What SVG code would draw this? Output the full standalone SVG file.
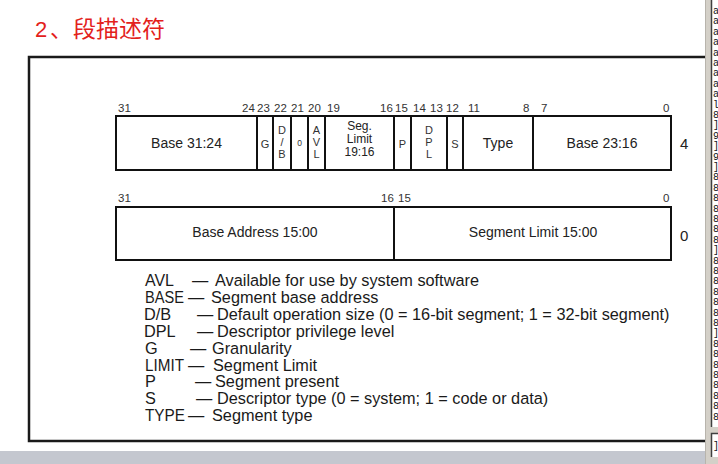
<svg xmlns="http://www.w3.org/2000/svg" width="718" height="464" viewBox="0 0 718 464">
<style>
.t{font-family:"Liberation Sans",Arial,sans-serif}
.bit{font-family:"Liberation Sans",Arial,sans-serif;font-size:11.5px;fill:#333}
.lbl{font-family:"Liberation Sans",Arial,sans-serif;font-size:14px;fill:#222;text-anchor:middle}
.sm{font-family:"Liberation Sans",Arial,sans-serif;font-size:11px;fill:#333;text-anchor:middle}
.cell{fill:#fff;stroke:#111;stroke-width:2}
.div{stroke:#111;stroke-width:2}
.leg{font-family:"Liberation Sans",Arial,sans-serif;font-size:16.3px;fill:#1a1a1a}
.mono{font-family:"Liberation Mono","DejaVu Sans Mono",monospace;font-size:10px;fill:#111}
</style>
<rect x="0" y="0" width="718" height="464" fill="#fff"/>
<text x="35" y="37" style="font-family:'Liberation Sans','Noto Sans CJK SC',sans-serif;font-size:22px;fill:#e3211b">2<tspan x="50">、</tspan><tspan x="73" style="font-size:23px">段描述符</tspan></text>
<rect x="29" y="57" width="700" height="384" fill="none" stroke="#1a1a1a" stroke-width="2.5"/>

<g id="row-high">
<rect class="cell" x="116" y="116" width="555" height="54"/>
<g class="bit">
<text x="118" y="112">31</text><text x="242" y="112">24</text><text x="257" y="112">23</text>
<text x="274" y="112">22</text><text x="291" y="112">21</text><text x="308" y="112">20</text>
<text x="327" y="112">19</text><text x="380" y="112">16</text><text x="395" y="112">15</text>
<text x="413" y="112">14</text><text x="430" y="112">13</text><text x="446" y="112">12</text>
<text x="468" y="112">11</text><text x="523" y="112">8</text><text x="541" y="112">7</text>
<text x="663" y="112">0</text>
</g>
<g id="f-base3124"><text class="lbl" x="186.5" y="148">Base 31:24</text></g>
<g id="f-g"><line class="div" x1="257" y1="116" x2="257" y2="170"/><text class="sm" x="265" y="147.5">G</text></g>
<g id="f-db"><line class="div" x1="273" y1="116" x2="273" y2="170"/><text class="sm" x="282" y="134">D</text><text class="sm" x="282" y="146">/</text><text class="sm" x="282" y="158">B</text></g>
<g id="f-zero"><line class="div" x1="291" y1="116" x2="291" y2="170"/><text class="sm" x="299.5" y="146" style="font-size:8.5px">0</text></g>
<g id="f-avl"><line class="div" x1="308" y1="116" x2="308" y2="170"/><text class="sm" x="316.5" y="134">A</text><text class="sm" x="316.5" y="146">V</text><text class="sm" x="316.5" y="158">L</text></g>
<g id="f-seglimit"><line class="div" x1="325" y1="116" x2="325" y2="170"/><text class="lbl" x="359.5" y="129.5" style="font-size:12px">Seg.</text><text class="lbl" x="359.5" y="142.5" style="font-size:12px">Limit</text><text class="lbl" x="359.5" y="155.5" style="font-size:12px">19:16</text></g>
<g id="f-p"><line class="div" x1="394" y1="116" x2="394" y2="170"/><text class="sm" x="402.5" y="147.5">P</text></g>
<g id="f-dpl"><line class="div" x1="411" y1="116" x2="411" y2="170"/><text class="sm" x="429" y="134">D</text><text class="sm" x="429" y="146">P</text><text class="sm" x="429" y="158">L</text></g>
<g id="f-s"><line class="div" x1="447" y1="116" x2="447" y2="170"/><text class="sm" x="455" y="147.5">S</text></g>
<g id="f-type"><line class="div" x1="463" y1="116" x2="463" y2="170"/><text class="lbl" x="498" y="148">Type</text></g>
<g id="f-base2316"><line class="div" x1="533" y1="116" x2="533" y2="170"/><text class="lbl" x="602" y="148">Base 23:16</text></g>
<text class="t" x="680" y="149" style="font-size:15px;fill:#222">4</text>
</g>

<g id="row-low">
<rect class="cell" x="116" y="207" width="555" height="53"/>
<g class="bit">
<text x="118" y="202">31</text><text x="381" y="202">16</text><text x="398" y="202">15</text><text x="663" y="202">0</text>
</g>
<g id="f-baseaddr"><text class="lbl" x="255" y="237">Base Address 15:00</text></g>
<g id="f-seglim"><line class="div" x1="394" y1="207" x2="394" y2="260"/><text class="lbl" x="533" y="237">Segment Limit 15:00</text></g>
<text class="t" x="680" y="241" style="font-size:15px;fill:#222">0</text>
</g>

<g id="connectors"></g>

<g id="legend" class="leg">
<text y="286"><tspan x="145" textLength="29" lengthAdjust="spacingAndGlyphs">AVL</tspan><tspan x="192">—</tspan><tspan x="215">Available for use by system software</tspan></text>
<text y="302.9"><tspan x="145" textLength="39" lengthAdjust="spacingAndGlyphs">BASE</tspan><tspan x="188">—</tspan><tspan x="211">Segment base address</tspan></text>
<text y="319.8"><tspan x="144">D/B</tspan><tspan x="197">—</tspan><tspan x="217">Default operation size (0 = 16-bit segment; 1 = 32-bit segment)</tspan></text>
<text y="336.7"><tspan x="144">DPL</tspan><tspan x="197">—</tspan><tspan x="217">Descriptor privilege level</tspan></text>
<text y="353.6"><tspan x="145">G</tspan><tspan x="190">—</tspan><tspan x="212">Granularity</tspan></text>
<text y="370.5"><tspan x="145" textLength="39" lengthAdjust="spacingAndGlyphs">LIMIT</tspan><tspan x="188">—</tspan><tspan x="213">Segment Limit</tspan></text>
<text y="387.4"><tspan x="145">P</tspan><tspan x="195">—</tspan><tspan x="215">Segment present</tspan></text>
<text y="404.3"><tspan x="145">S</tspan><tspan x="196">—</tspan><tspan x="217">Descriptor type (0 = system; 1 = code or data)</tspan></text>
<text y="421.2"><tspan x="145" textLength="40" lengthAdjust="spacingAndGlyphs">TYPE</tspan><tspan x="188">—</tspan><tspan x="212">Segment type</tspan></text>
</g>

<rect x="0" y="451" width="706" height="13" fill="#c4c7cf"/>
<g id="side-panel">
<rect x="705" y="0" width="13" height="464" fill="#d4d0c8"/>
<line x1="705.5" y1="0" x2="705.5" y2="464" stroke="#b8b4ac" stroke-width="1"/>
<rect x="711" y="0" width="7" height="427" fill="#fff"/>
<line x1="711.5" y1="0" x2="711.5" y2="427" stroke="#404040" stroke-width="1.5"/>
<rect x="711" y="433" width="7" height="24" fill="#fff"/>
<path d="M711.5 457V433.5H718" fill="none" stroke="#404040" stroke-width="1.5"/>
<text class="mono" x="713" y="449">]</text>
<g class="mono">
<text x="713" y="14">a</text><text x="713" y="24.4">a</text><text x="713" y="34.8">a</text><text x="713" y="45.2">a</text><text x="713" y="55.6">a</text><text x="713" y="66">a</text><text x="713" y="76.4">a</text><text x="713" y="86.8">a</text><text x="713" y="97.2">a</text>
<text x="713" y="107.6">l</text><text x="713" y="118">8</text><text x="713" y="128.4">]</text><text x="713" y="138.8">9</text><text x="713" y="149.2">]</text><text x="713" y="159.6">9</text><text x="713" y="170">]</text>
<text x="713" y="180.4">8</text><text x="713" y="190.8">8</text><text x="713" y="201.2">8</text><text x="713" y="211.6">8</text><text x="713" y="222">8</text><text x="713" y="232.4">8</text><text x="713" y="242.8">8</text><text x="713" y="253.2">]</text>
<text x="713" y="263.6">8</text><text x="713" y="274">8</text><text x="713" y="284.4">8</text><text x="713" y="294.8">8</text><text x="713" y="305.2">8</text><text x="713" y="315.6">8</text><text x="713" y="326">8</text><text x="713" y="336.4">]</text>
<text x="713" y="346.8">8</text><text x="713" y="357.2">8</text><text x="713" y="367.6">8</text><text x="713" y="378">8</text><text x="713" y="388.4">8</text><text x="713" y="398.8">8</text><text x="713" y="409.2">8</text><text x="713" y="419.6">8</text>
</g>
</g>
</svg>
